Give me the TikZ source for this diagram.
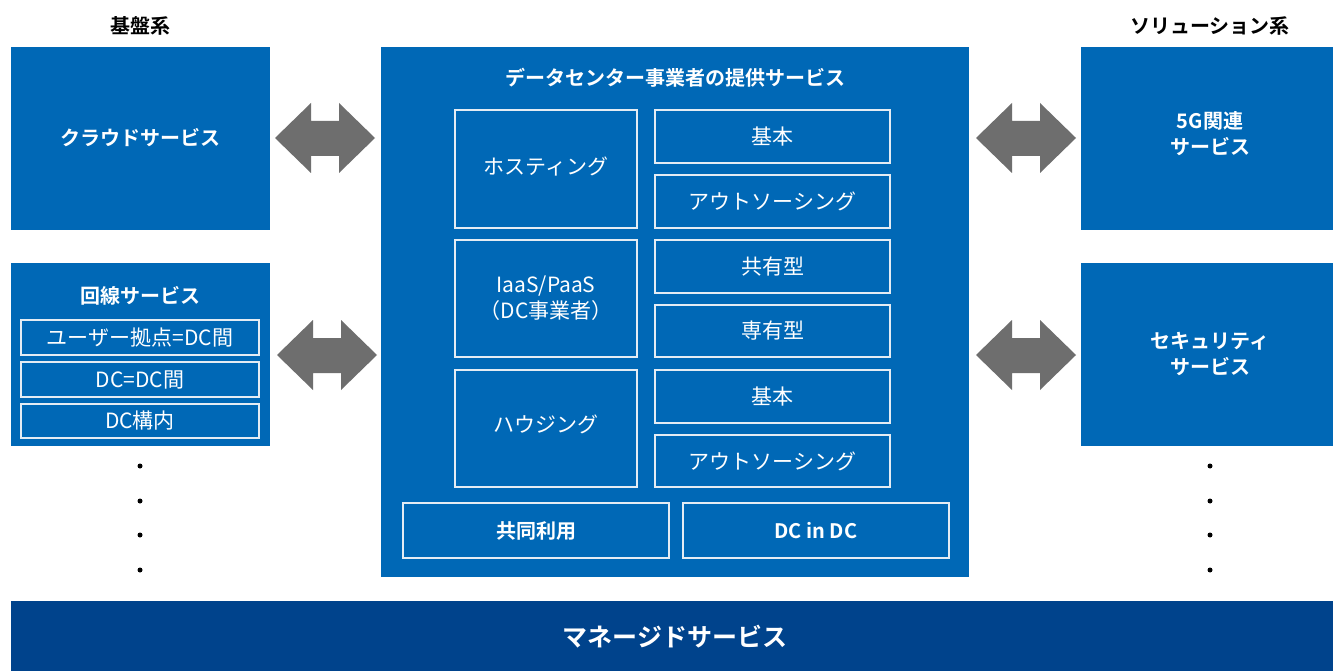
\documentclass[tikz,border=0pt]{standalone}
\usepackage{fontspec}
\setmainfont{Noto Sans CJK JP}
\newfontfamily\jpb{Noto Sans CJK JP Bold}
\definecolor{mainblue}{HTML}{0068B6}
\definecolor{darkblue}{HTML}{00438C}
\definecolor{arrowgray}{HTML}{6E6E6E}
\definecolor{linewhite}{HTML}{E4ECF4}
\begin{document}
\begin{tikzpicture}[x=1pt,y=-1pt,
  bluebox/.style={fill=mainblue,draw=none},
  innerbox/.style={draw=linewhite,line width=1.2pt,fill=none},
  lbl/.style={text=white,font=\fontsize{21}{26}\selectfont,align=center,inner sep=0pt},
  blbl/.style={text=white,font=\jpb\fontsize{20}{26}\selectfont,align=center,inner sep=0pt},
  hdr/.style={text=black,font=\jpb\fontsize{20}{24}\selectfont,inner sep=0pt},
  dot/.style={circle,fill=black,inner sep=0pt,minimum size=5pt}]
\useasboundingbox (0,0) rectangle (1333,671);
\fill[white] (0,0) rectangle (1333,671);
% headers
\node[hdr] (h1) at (140,26) {基盤系};
\node[hdr] (h2) at (1210,26) {ソリューション系};
% left boxes
\fill[bluebox] (11,47) rectangle (270,230);
\node[blbl] (cloud) at (140,138) {クラウドサービス};
\fill[bluebox] (11,263) rectangle (270,446);
\node[blbl] (line) at (140,296) {回線サービス};
\draw[innerbox] (21,320) rectangle (259,355);
\node[lbl] (l1) at (140,337.5) {ユーザー拠点=DC間};
\draw[innerbox] (21,362) rectangle (259,397);
\node[lbl] (l2) at (140,379.5) {DC=DC間};
\draw[innerbox] (21,404) rectangle (259,438);
\node[lbl] (l3) at (140,421) {DC構内};
% right boxes
\fill[bluebox] (1081,47) rectangle (1333,230);
\node[blbl] (g5) at (1210,134) {5G関連\\サービス};
\fill[bluebox] (1081,263) rectangle (1333,446);
\node[blbl] (sec) at (1210,354) {セキュリティ\\サービス};
% dots
\foreach \y in {466,501,535,570} {
  \node[dot] at (140,\y) {};
  \node[dot] at (1210,\y) {};
}
% center
\fill[bluebox] (381,47) rectangle (969,577);
\node[blbl] (title) at (675,78) {データセンター事業者の提供サービス};
\draw[innerbox] (455,110) rectangle (637,228);
\node[lbl] (host) at (546,167) {ホスティング};
\draw[innerbox] (455,240) rectangle (637,357);
\node[lbl] (iaas) at (546,298) {IaaS/PaaS\\（DC事業者）};
\draw[innerbox] (455,370) rectangle (637,487);
\node[lbl] (hous) at (546,424) {ハウジング};
\draw[innerbox] (655,110) rectangle (890,163);
\node[lbl] (r1) at (772.5,136.5) {基本};
\draw[innerbox] (655,175) rectangle (890,228);
\node[lbl] (r2) at (772.5,201.5) {アウトソーシング};
\draw[innerbox] (655,240) rectangle (890,293);
\node[lbl] (r3) at (772.5,266.5) {共有型};
\draw[innerbox] (655,305) rectangle (890,357);
\node[lbl] (r4) at (772.5,331) {専有型};
\draw[innerbox] (655,370) rectangle (890,423);
\node[lbl] (r5) at (772.5,396.5) {基本};
\draw[innerbox] (655,435) rectangle (890,487);
\node[lbl] (r6) at (772.5,461) {アウトソーシング};
\draw[innerbox] (403,503) rectangle (669,558);
\node[blbl] (b1) at (536,530.5) {共同利用};
\draw[innerbox] (683,503) rectangle (949,558);
\node[blbl] (b2) at (816,530.5) {DC in DC};
% managed
\fill[darkblue] (11,601) rectangle (1333,671);
\node[text=white,font=\jpb\fontsize{25}{30}\selectfont,inner sep=0pt] (mg) at (675,637) {マネージドサービス};
% arrows
\foreach \x/\y in {275/138, 277/355, 976/138, 976/355} {
  \fill[arrowgray] (\x,\y) -- (\x+36,\y-35) -- (\x+36,\y-17) -- (\x+64,\y-17) -- (\x+64,\y-35)
    -- (\x+100,\y) -- (\x+64,\y+35) -- (\x+64,\y+18) -- (\x+36,\y+18) -- (\x+36,\y+35) -- cycle;
}
\end{tikzpicture}
\end{document}
